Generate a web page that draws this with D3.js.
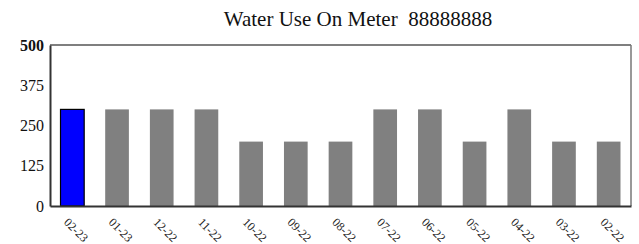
<!DOCTYPE html>
<html>
<head>
<meta charset="utf-8">
<script src="https://cdn.jsdelivr.net/npm/d3@7"></script>
<style>
  body { margin: 0; background: #fff; }
</style>
</head>
<body>
<svg id="chart" width="639" height="244"></svg>
<script>
// months shown newest first, as on the meter report
var months = ["02-23", "01-23", "12-22", "11-22", "10-22", "09-22", "08-22",
              "07-22", "06-22", "05-22", "04-22", "03-22", "02-22"]
var usage = [300, 300, 300, 300, 200, 200, 200, 300, 300, 200, 300, 200, 200]
var yTicks = [0, 125, 250, 375, 500]
var title = "Water Use On Meter\u00a0\u00a088888888"

var serif = "'Liberation Serif'"

var svg = d3.select("#chart")
var margin = { top: 45, right: 8, bottom: 38, left: 50 }
var width = 639 - margin.left - margin.right
var height = 244 - margin.top - margin.bottom

var x = d3.scaleBand()
  .domain(months)
  .range([0, width])
  .paddingInner(0.47)
  .paddingOuter(0.235)

var y = d3.scaleLinear()
  .domain([0, 500])
  .range([height, 0])

var g = svg.append("g")
  .attr("transform", "translate(" + margin.left + "," + margin.top + ")")

// title
svg.append("text")
  .attr("x", 358)
  .attr("y", 26)
  .attr("text-anchor", "middle")
  .style("font-family", serif)
  .style("font-size", "21px")
  .style("fill", "#111")
  .text(title)

// bars
g.selectAll("rect.bar")
  .data(months)
  .enter()
  .append("rect")
    .attr("class", "bar")
    .attr("x", function (d) { return x(d) })
    .attr("width", x.bandwidth())
    .attr("y", function (d, i) { return y(usage[i]) })
    .attr("height", function (d, i) { return height - y(usage[i]) })
    .attr("fill", function (d, i) { return i == 0 ? "#0000ff" : "#808080" })
    .attr("stroke", function (d, i) { return i == 0 ? "#000" : "none" })
    .attr("stroke-width", 1.2)

// frame: top + right light, left + bottom dark
g.append("line")
  .attr("x1", 0).attr("x2", width).attr("y1", 0).attr("y2", 0)
  .attr("stroke", "#555").attr("stroke-width", 1.3)
g.append("line")
  .attr("x1", width).attr("x2", width).attr("y1", 0).attr("y2", height)
  .attr("stroke", "#777").attr("stroke-width", 1.5)

// y axis
var yAxis = g.append("g")
  .call(d3.axisLeft(y).tickValues(yTicks).tickSize(0).tickPadding(6))
yAxis.select(".domain").attr("stroke", "#333").attr("stroke-width", 2)
yAxis.selectAll("text")
  .style("font-family", serif)
  .style("font-size", "16px")
  .style("font-weight", function (d) { return d == 500 ? "bold" : "normal" })
  .attr("fill", "#111")

// x axis
var xAxis = g.append("g")
  .attr("transform", "translate(0," + height + ")")
  .call(d3.axisBottom(x).tickSize(0).tickPadding(0))
xAxis.select(".domain").attr("stroke", "#333").attr("stroke-width", 2)
xAxis.selectAll("text")
  .style("font-family", serif)
  .style("font-size", "12px")
  .attr("fill", "#222")
  .attr("text-anchor", "start")
  .attr("dy", 0)
  .attr("transform", "translate(-9,17) rotate(45)")
</script>
</body>
</html>
